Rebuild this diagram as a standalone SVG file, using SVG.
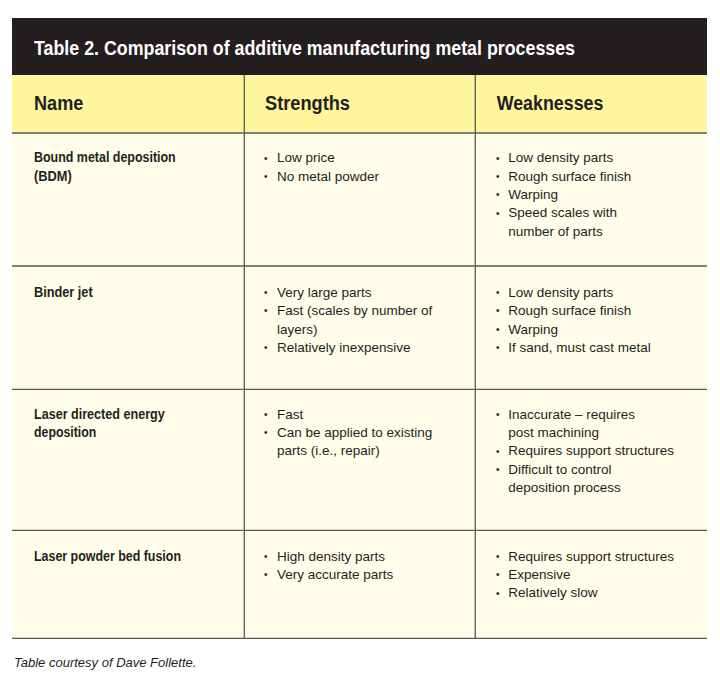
<svg xmlns="http://www.w3.org/2000/svg" width="720" height="678" viewBox="0 0 720 678">
<style>
.title{font-family:"Liberation Sans",Arial,sans-serif;font-weight:bold;font-size:21px;fill:#ffffff}
.hd{font-family:"Liberation Sans",Arial,sans-serif;font-weight:bold;font-size:19.5px;fill:#231f20}
.nm{font-family:"Liberation Sans",Arial,sans-serif;font-weight:bold;font-size:14px;fill:#231f20}
.tx{font-family:"Liberation Sans",Arial,sans-serif;font-size:13.5px;fill:#231f20}
.bl{font-family:"Liberation Sans",Arial,sans-serif;font-size:10px;fill:#231f20}
.cap{font-family:"Liberation Sans",Arial,sans-serif;font-style:italic;font-size:13px;fill:#231f20}
.ln{stroke:#5b5a55;stroke-width:1.3;fill:none}
</style>
<rect x="0" y="0" width="720" height="678" fill="#ffffff"/>
<g id="title-bar">
<rect x="12" y="18" width="695" height="57" fill="#231f20"/>
<text class="title" x="34" y="55" textLength="541" lengthAdjust="spacingAndGlyphs">Table 2. Comparison of additive manufacturing metal processes</text>
</g>
<g id="header">
<rect x="12" y="75" width="695" height="58" fill="#fff59d"/>
<text class="hd" x="34" y="110" textLength="49.3" lengthAdjust="spacingAndGlyphs">Name</text>
<text class="hd" x="265" y="110" textLength="85" lengthAdjust="spacingAndGlyphs">Strengths</text>
<text class="hd" x="496.7" y="110" textLength="106.7" lengthAdjust="spacingAndGlyphs">Weaknesses</text>
</g>
<rect x="12" y="133" width="695" height="505" fill="#fffdea"/>
<g id="grid">
<line class="ln" x1="12" y1="133" x2="707" y2="133"/>
<line class="ln" x1="12" y1="266" x2="707" y2="266"/>
<line class="ln" x1="12" y1="389.3" x2="707" y2="389.3"/>
<line class="ln" x1="12" y1="530.3" x2="707" y2="530.3"/>
<line class="ln" x1="12" y1="638.3" x2="707" y2="638.3"/>
<line class="ln" x1="244.3" y1="75" x2="244.3" y2="638.3"/>
<line class="ln" x1="475.3" y1="75" x2="475.3" y2="638.3"/>
</g>
<g id="row-bdm">
<text class="nm" x="34" y="162.3" textLength="141.7" lengthAdjust="spacingAndGlyphs">Bound metal deposition</text>
<text class="nm" x="34" y="180.7" textLength="37.7" lengthAdjust="spacingAndGlyphs">(BDM)</text>
<text class="bl" x="264" y="161.5">•</text><text class="tx" x="277" y="162.3">Low price</text>
<text class="bl" x="264" y="179.9">•</text><text class="tx" x="277" y="180.7">No metal powder</text>
<text class="bl" x="496" y="161.5">•</text><text class="tx" x="508.3" y="162.3">Low density parts</text>
<text class="bl" x="496" y="179.9">•</text><text class="tx" x="508.3" y="180.7">Rough surface finish</text>
<text class="bl" x="496" y="198.2">•</text><text class="tx" x="508.3" y="199">Warping</text>
<text class="bl" x="496" y="216.5">•</text><text class="tx" x="508.3" y="217.3">Speed scales with</text>
<text class="tx" x="508.3" y="235.7">number of parts</text>
</g>
<g id="row-binder">
<text class="nm" x="34" y="296.7" textLength="58.7" lengthAdjust="spacingAndGlyphs">Binder jet</text>
<text class="bl" x="264" y="295.9">•</text><text class="tx" x="277" y="296.7">Very large parts</text>
<text class="bl" x="264" y="314.2">•</text><text class="tx" x="277" y="315">Fast (scales by number of</text>
<text class="tx" x="277" y="333.5">layers)</text>
<text class="bl" x="264" y="351.2">•</text><text class="tx" x="277" y="352">Relatively inexpensive</text>
<text class="bl" x="496" y="295.9">•</text><text class="tx" x="508.3" y="296.7">Low density parts</text>
<text class="bl" x="496" y="314.2">•</text><text class="tx" x="508.3" y="315">Rough surface finish</text>
<text class="bl" x="496" y="332.7">•</text><text class="tx" x="508.3" y="333.5">Warping</text>
<text class="bl" x="496" y="351.2">•</text><text class="tx" x="508.3" y="352">If sand, must cast metal</text>
</g>
<g id="row-laser-ded">
<text class="nm" x="34" y="418.5" textLength="130.7" lengthAdjust="spacingAndGlyphs">Laser directed energy</text>
<text class="nm" x="34" y="437" textLength="62.3" lengthAdjust="spacingAndGlyphs">deposition</text>
<text class="bl" x="264" y="417.7">•</text><text class="tx" x="277" y="418.5">Fast</text>
<text class="bl" x="264" y="436.2">•</text><text class="tx" x="277" y="437">Can be applied to existing</text>
<text class="tx" x="277" y="455.4">parts (i.e., repair)</text>
<text class="bl" x="496" y="417.7">•</text><text class="tx" x="508.3" y="418.5">Inaccurate – requires</text>
<text class="tx" x="508.3" y="437">post machining</text>
<text class="bl" x="496" y="454.6">•</text><text class="tx" x="508.3" y="455.4">Requires support structures</text>
<text class="bl" x="496" y="473">•</text><text class="tx" x="508.3" y="473.8">Difficult to control</text>
<text class="tx" x="508.3" y="492.2">deposition process</text>
</g>
<g id="row-lpbf">
<text class="nm" x="34" y="560.7" textLength="147" lengthAdjust="spacingAndGlyphs">Laser powder bed fusion</text>
<text class="bl" x="264" y="559.9">•</text><text class="tx" x="277" y="560.7">High density parts</text>
<text class="bl" x="264" y="578.2">•</text><text class="tx" x="277" y="579">Very accurate parts</text>
<text class="bl" x="496" y="559.9">•</text><text class="tx" x="508.3" y="560.7">Requires support structures</text>
<text class="bl" x="496" y="578.2">•</text><text class="tx" x="508.3" y="579">Expensive</text>
<text class="bl" x="496" y="596.5">•</text><text class="tx" x="508.3" y="597.3">Relatively slow</text>
</g>
<g id="caption">
<text class="cap" x="14" y="666.7">Table courtesy of Dave Follette.</text>
</g>
</svg>
